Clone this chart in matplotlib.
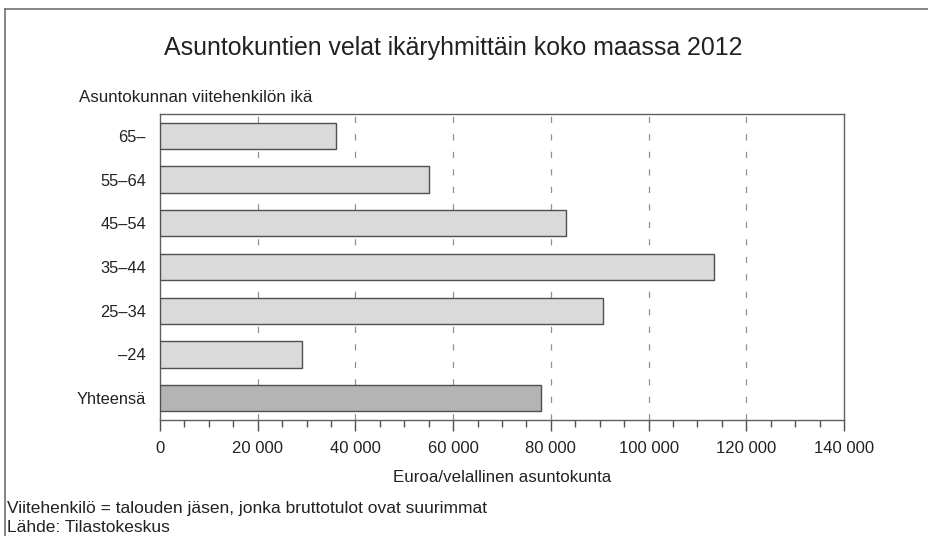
import matplotlib
matplotlib.use("Agg")
import matplotlib.pyplot as plt
from matplotlib.ticker import MultipleLocator, FuncFormatter
from matplotlib.lines import Line2D

plt.rcParams['font.family'] = ['Liberation Sans', 'DejaVu Sans']

categories = ["Yhteensä", "–24", "25–34", "35–44", "45–54", "55–64", "65–"]
values = [78000, 29000, 90700, 113400, 83000, 55000, 36000]
colors = ["#b4b4b4", "#dadada", "#dadada", "#dadada", "#dadada", "#dadada", "#dadada"]
xticks = [0, 20000, 40000, 60000, 80000, 100000, 120000, 140000]

fig = plt.figure(figsize=(9.29, 5.36), dpi=100)
ax = fig.add_axes([160/929, 1-420/536, 684/929, 306/536])

ypos = list(range(len(categories)))
ax.barh(ypos, values, height=0.6, color=colors, edgecolor="#505050",
        linewidth=1.0, zorder=3)

ax.set_xlim(0, 140000)
ax.set_ylim(-0.5, len(categories) - 0.5)
ax.set_yticks(ypos)
ax.set_yticklabels(categories, fontsize=11.8, color="#222222")
ax.tick_params(axis='y', length=0, pad=10)

ax.set_xticks(xticks)
ax.xaxis.set_minor_locator(MultipleLocator(5000))
ax.xaxis.set_major_formatter(FuncFormatter(lambda v, p: f"{int(v):,}".replace(",", " ")))
ax.tick_params(axis='x', which='major', length=8, width=1, color="#505050",
               labelsize=12, labelcolor="#222222", pad=7)
ax.tick_params(axis='x', which='minor', length=5, width=1, color="#505050")

for x in xticks[1:-1]:
    ax.axvline(x, color="#909090", linestyle=(0, (5, 9)), linewidth=0.9, zorder=1)

for s in ax.spines.values():
    s.set_color("#606060")
    s.set_linewidth(1.0)

fig.text(453/929, 1-48/536, "Asuntokuntien velat ikäryhmittäin koko maassa 2012",
         ha='center', va='center', fontsize=17.9, color="#222222")
fig.text(79/929, 1-98/536, "Asuntokunnan viitehenkilön ikä",
         ha='left', va='center', fontsize=12.2, color="#222222")
fig.text(502/929, 1-478/536, "Euroa/velallinen asuntokunta",
         ha='center', va='center', fontsize=12.2, color="#222222")
fig.text(7/929, 1-508/536, "Viitehenkilö = talouden jäsen, jonka bruttotulot ovat suurimmat",
         ha='left', va='center', fontsize=12.5, color="#222222")
fig.text(7/929, 1-527/536, "Lähde: Tilastokeskus",
         ha='left', va='center', fontsize=12.5, color="#222222")

fig.add_artist(Line2D([5/929, 1.0], [1-9/536, 1-9/536], color="#707070", linewidth=1.2))
fig.add_artist(Line2D([5/929, 5/929], [0.0, 1-9/536], color="#707070", linewidth=1.2))

fig.savefig("out.png", dpi=100)
